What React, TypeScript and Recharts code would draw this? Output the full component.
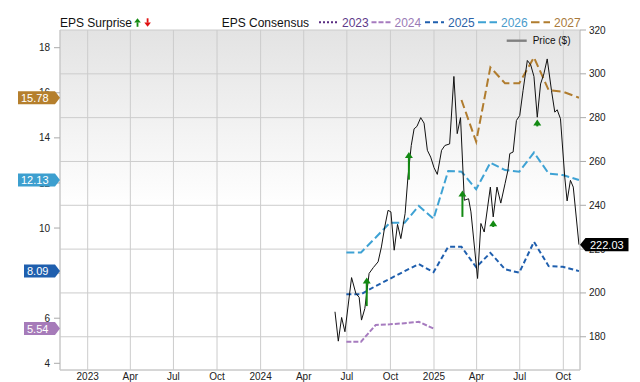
import React from 'react';
import { LineChart, Line, XAxis, YAxis, CartesianGrid, ReferenceDot, ReferenceLine, Legend } from 'recharts';

const DAY = 86400000;
const ts = (s: string) => Date.parse(s + 'T00:00:00Z');
const BASE = ts('2023-01-01');
const X_DOMAIN: [number, number] = [BASE - 58.47 * DAY, BASE + 1039.2 * DAY];

const xTickDates = ['2023-01-01', '2023-04-01', '2023-07-01', '2023-10-01', '2024-01-01', '2024-04-01', '2024-07-01', '2024-10-01', '2025-01-01', '2025-04-01', '2025-07-01', '2025-10-01'];
const xTickLabels = ['2023', 'Apr', 'Jul', 'Oct', '2024', 'Apr', 'Jul', 'Oct', '2025', 'Apr', 'Jul', 'Oct'];
const leftTicks = [4, 6, 8, 10, 12, 14, 16, 18];
const rightTicks = [180, 200, 220, 240, 260, 280, 300, 320];

const consensusDates = ['2024-06-30', '2024-07-31', '2024-08-31', '2024-09-30', '2024-10-31', '2024-11-30', '2024-12-31', '2025-01-31', '2025-02-28', '2025-03-31', '2025-04-30', '2025-05-31', '2025-06-30', '2025-07-31', '2025-08-31', '2025-09-30', '2025-11-03'];
const eps2024 = [4.96, 4.96, 5.7, 5.73, 5.78, 5.84, 5.54];
const eps2025 = [7.06, 7.06, 7.43, 7.75, 8.09, 8.4, 8.04, 9.17, 9.17, 8.26, 8.9, 8.17, 8.02, 9.39, 8.31, 8.28, 8.09];
const eps2026 = [8.92, 8.92, 9.58, 10.24, 10.24, 10.98, 10.41, 12.53, 12.5, 11.72, 12.9, 12.57, 12.5, 13.35, 12.42, 12.35, 12.13];
const eps2027Dates = ['2025-02-28', '2025-03-31', '2025-04-30', '2025-05-31', '2025-06-30', '2025-07-31', '2025-08-31', '2025-09-30', '2025-11-03'];
const eps2027 = [15.68, 13.83, 17.13, 16.42, 16.42, 17.57, 16.12, 16.05, 15.78];

const priceDates = ['2024-06-06', '2024-06-13', '2024-06-20', '2024-06-27', '2024-07-11', '2024-07-20', '2024-07-27', '2024-08-01', '2024-08-08', '2024-08-17', '2024-08-26', '2024-09-05', '2024-09-12', '2024-09-19', '2024-09-26', '2024-10-02', '2024-10-09', '2024-10-16', '2024-10-23', '2024-11-01', '2024-11-07', '2024-11-14', '2024-11-20', '2024-11-26', '2024-12-04', '2024-12-11', '2024-12-18', '2024-12-25', '2025-01-01', '2025-01-08', '2025-01-17', '2025-01-24', '2025-02-03', '2025-02-12', '2025-02-19', '2025-02-26', '2025-03-06', '2025-03-15', '2025-03-20', '2025-04-03', '2025-04-10', '2025-04-17', '2025-04-30', '2025-05-06', '2025-05-14', '2025-05-22', '2025-05-31', '2025-06-06', '2025-06-10', '2025-06-17', '2025-06-24', '2025-07-01', '2025-07-08', '2025-07-17', '2025-07-24', '2025-07-31', '2025-08-07', '2025-08-14', '2025-08-21', '2025-08-28', '2025-09-06', '2025-09-13', '2025-09-18', '2025-09-25', '2025-10-04', '2025-10-09', '2025-10-16', '2025-10-22', '2025-11-03'];
const prices = [191.4, 178.0, 188.8, 182.3, 207.0, 199.8, 198.0, 187.6, 192.9, 208.9, 211.6, 214.2, 221.0, 230.1, 237.7, 237.0, 219.5, 231.3, 224.8, 236.2, 252.9, 267.3, 274.9, 276.0, 280.0, 277.5, 265.1, 262.0, 257.2, 254.1, 265.1, 267.3, 268.0, 298.8, 272.7, 280.0, 242.3, 243.0, 237.0, 206.6, 231.7, 227.8, 248.3, 234.7, 248.3, 241.0, 249.9, 255.9, 263.6, 264.3, 278.7, 281.0, 292.4, 306.1, 304.2, 298.8, 280.2, 295.4, 300.0, 306.8, 292.4, 282.5, 283.6, 279.5, 252.9, 242.0, 251.4, 248.3, 222.03];

const surpriseDates = ['2024-08-12', '2024-11-09', '2025-03-02', '2025-05-06', '2025-08-07'];
const surpriseTop = [207.0, 264.3, 246.8, 233.2, 279.2];
const surpriseBottom = [194.0, 251.7, 234.7, 230.1, 276.0];

const badgeLabels = ['15.78', '12.13', '8.09', '5.54'];
const badgeValues = [15.78, 12.13, 8.09, 5.54];
const badgeColors = ['#b57f2d', '#3d9fcf', '#1f5fae', '#a67bb9'];
const lastPriceLabel = '222.03';
const lastPrice = 222.03;

const FONT = '"Liberation Sans", Arial, Helvetica, sans-serif';

const series = [
  { key: '2023', color: '#5a2d82', text: '#5e3a8a', dash: '2 2', legendX: 319 },
  { key: '2024', color: '#a67bbf', text: '#9a7bb6', dash: '5 2', legendX: 371.5 },
  { key: '2025', color: '#1f5fae', text: '#2c63a8', dash: '5 3', legendX: 425 },
  { key: '2026', color: '#3ea2d4', text: '#4a9bcb', dash: '8 3.5', legendX: 478 },
  { key: '2027', color: '#b07c2e', text: '#a97a3c', dash: '8.5 4', legendX: 531 },
];

const mk = (dates: string[], vals: number[]) => vals.map((v, i) => ({ t: ts(dates[i]), v }));
const d2024 = mk(consensusDates, eps2024);
const d2025 = mk(consensusDates, eps2025);
const d2026 = mk(consensusDates, eps2026);
const d2027 = mk(eps2027Dates, eps2027);
const dPrice = mk(priceDates, prices);
const xTicks = xTickDates.map(ts);

const fmtX = (t: number) => {
  const i = xTicks.indexOf(t);
  return i >= 0 ? xTickLabels[i] : '';
};

const LeftBadge = (label: string, color: string) => (p: any) => {
  const { cx, cy } = p;
  const w = 6 * label.length + 7;
  const h = 6.5;
  const pts = `${cx},${cy} ${cx - 5},${cy - h} ${cx - 5 - w},${cy - h} ${cx - 5 - w},${cy + h} ${cx - 5},${cy + h}`;
  return (
    <g>
      <polygon points={pts} fill={color} />
      <text x={cx - 5 - w + 3} y={cy + 4} fill="#fff" fontSize={11} fontFamily={FONT}>{label}</text>
    </g>
  );
};

const RightBadge = (label: string) => (p: any) => {
  const { cx, cy } = p;
  const w = 43;
  const h = 6.7;
  const pts = `${cx},${cy} ${cx + 5.5},${cy - h} ${cx + 5.5 + w},${cy - h} ${cx + 5.5 + w},${cy + h} ${cx + 5.5},${cy + h}`;
  return (
    <g>
      <polygon points={pts} fill="#000" />
      <text x={cx + 10} y={cy + 4} fill="#fff" fontSize={11} fontFamily={FONT}>{label}</text>
    </g>
  );
};

const ArrowHead = (p: any) => {
  const { cx, cy } = p;
  return <polygon points={`${cx},${cy} ${cx - 4},${cy + 6} ${cx + 4},${cy + 6}`} fill="#138a13" />;
};

const LegendContent = () => (
  <svg width={640} height={50} style={{ display: 'block' }}>
    <g fontFamily={FONT} fontSize={12}>
      <text x={60} y={26.6} fill="#111">EPS Surprise</text>
      <polygon points="137.5,18.3 134.2,22.6 140.8,22.6" fill="#138a13" />
      <rect x={136.6} y={22.4} width={1.8} height={4.4} fill="#138a13" />
      <polygon points="147.6,26.8 144.3,22.5 150.9,22.5" fill="#e01010" />
      <rect x={146.7} y={18.3} width={1.8} height={4.4} fill="#e01010" />
      <text x={221.7} y={26.6} fill="#111">EPS Consensus</text>
      {series.map((s) => (
        <g key={s.key}>
          <line x1={s.legendX} x2={s.legendX + 19} y1={22.3} y2={22.3} stroke={s.color} strokeWidth={2} strokeDasharray={s.dash} />
          <text x={s.legendX + 23} y={26.6} fill={s.text}>{s.key}</text>
        </g>
      ))}
      <line x1={506.7} x2={526.7} y1={40.7} y2={40.7} stroke="#808080" strokeWidth={2.4} />
      <text x={532.7} y={44.3} fill="#111" fontSize={10}>Price ($)</text>
    </g>
  </svg>
);

export default function App() {
  const tickStyle = { fontSize: 10, fontFamily: FONT, fill: '#222' };
  const badgeProps: any = { zIndex: 2500 };
  return (
    <div style={{ position: 'absolute', left: 0, top: 0 }}>
      <LineChart width={640} height={382} margin={{ top: 30, right: 0, bottom: 0, left: 0 }}>
        <defs>
          <linearGradient id="plotBg" x1="0" y1="0" x2="0" y2="1">
            <stop offset="0%" stopColor="#e3e3e3" />
            <stop offset="52%" stopColor="#ffffff" />
            <stop offset="100%" stopColor="#ffffff" />
          </linearGradient>
        </defs>
        <CartesianGrid yAxisId="right" stroke="#cccccc" fill="url(#plotBg)" />
        <XAxis
          dataKey="t"
          type="number"
          domain={X_DOMAIN}
          allowDataOverflow
          ticks={xTicks}
          tickFormatter={fmtX}
          tickLine={false}
          tickSize={0}
          tickMargin={3}
          height={12}
          axisLine={{ stroke: '#c8c8c8' }}
          tick={tickStyle}
          interval={0}
        />
        <YAxis
          yAxisId="left"
          orientation="left"
          width={60}
          domain={[3.703, 18.785]}
          allowDataOverflow
          ticks={leftTicks}
          interval={0}
          tickSize={6}
          tickMargin={4}
          tickLine={{ stroke: '#aaaaaa' }}
          axisLine={{ stroke: '#c8c8c8' }}
          tick={tickStyle}
        />
        <YAxis
          yAxisId="right"
          orientation="right"
          width={60}
          domain={[164.83, 320]}
          allowDataOverflow
          ticks={rightTicks}
          interval={0}
          tickSize={6}
          tickMargin={3}
          tickLine={{ stroke: '#aaaaaa' }}
          axisLine={{ stroke: '#c8c8c8' }}
          tick={{ ...tickStyle, textAnchor: 'start' }}
        />
        <Line yAxisId="left" data={d2024} dataKey="v" stroke={series[1].color} strokeWidth={2} strokeDasharray={series[1].dash} dot={false} isAnimationActive={false} />
        <Line yAxisId="left" data={d2025} dataKey="v" stroke={series[2].color} strokeWidth={2} strokeDasharray={series[2].dash} dot={false} isAnimationActive={false} />
        <Line yAxisId="left" data={d2026} dataKey="v" stroke={series[3].color} strokeWidth={2} strokeDasharray={series[3].dash} dot={false} isAnimationActive={false} />
        <Line yAxisId="left" data={d2027} dataKey="v" stroke={series[4].color} strokeWidth={2} strokeDasharray={series[4].dash} dot={false} isAnimationActive={false} />
        <Line yAxisId="right" data={dPrice} dataKey="v" stroke="#111111" strokeWidth={1} dot={false} isAnimationActive={false} />
        {surpriseDates.map((d, i) => (
          <ReferenceLine
            key={'s' + i}
            yAxisId="right"
            segment={[{ x: ts(d), y: surpriseBottom[i] }, { x: ts(d), y: surpriseTop[i] - 1.5 }]}
            stroke="#138a13"
            strokeWidth={2}
            {...badgeProps}
          />
        ))}
        {surpriseDates.map((d, i) => (
          <ReferenceDot key={'h' + i} yAxisId="right" x={ts(d)} y={surpriseTop[i]} shape={ArrowHead} {...badgeProps} />
        ))}
        {badgeValues.map((v, i) => (
          <ReferenceDot key={'b' + i} yAxisId="left" x={X_DOMAIN[0]} y={v} ifOverflow="visible" shape={LeftBadge(badgeLabels[i], badgeColors[i])} {...badgeProps} />
        ))}
        <ReferenceDot yAxisId="right" x={X_DOMAIN[1]} y={lastPrice} ifOverflow="visible" shape={RightBadge(lastPriceLabel)} {...badgeProps} />
        <Legend
          verticalAlign="middle"
          align="center"
          layout="horizontal"
          content={LegendContent}
          wrapperStyle={{ position: 'absolute', left: 0, top: 0, width: 640, height: 50, pointerEvents: 'none' }}
        />
      </LineChart>
    </div>
  );
}
